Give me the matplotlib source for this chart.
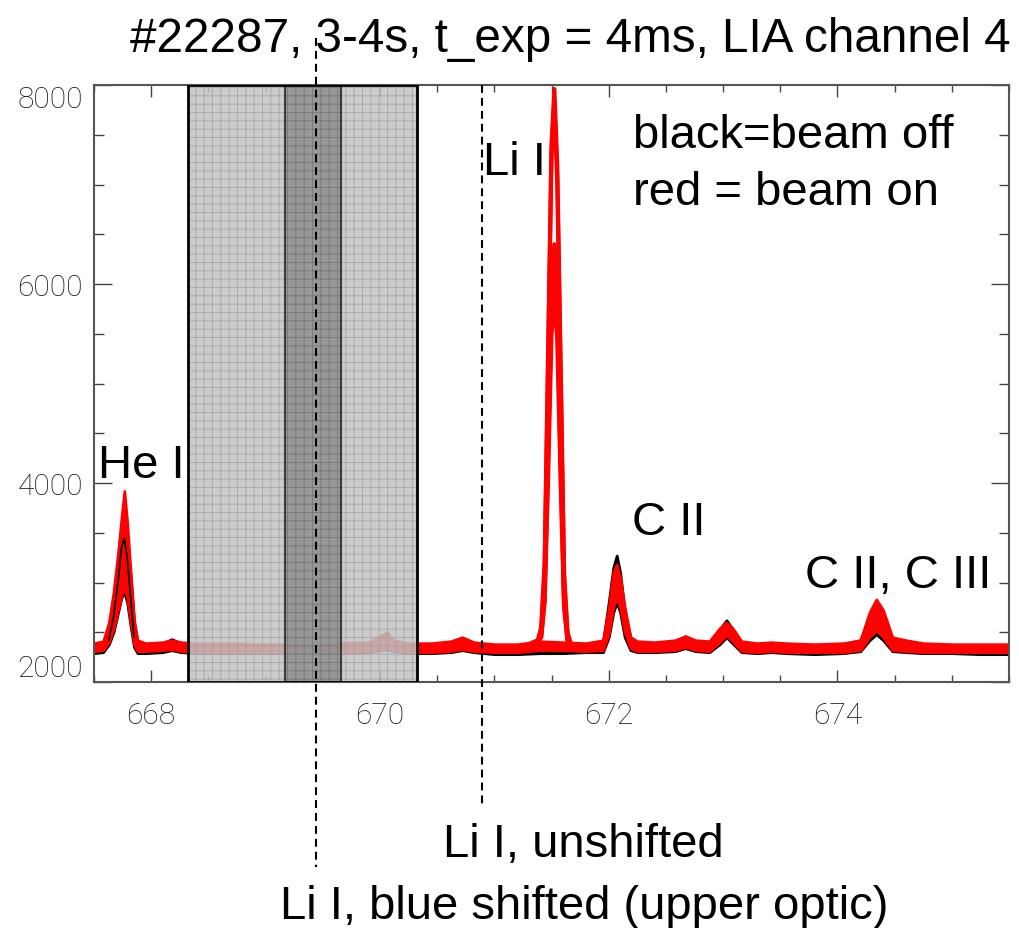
import numpy as np
import matplotlib
matplotlib.use("Agg")
import matplotlib.pyplot as plt
from matplotlib.patches import Rectangle
import matplotlib.transforms as mtransforms

# ---------------- data ----------------
wavelength = [667.50, 667.58, 667.63, 667.67, 667.71, 667.74, 667.765, 667.79, 667.82, 667.85,
              667.88, 667.95, 668.10, 668.18, 668.26, 668.40, 668.70, 669.00, 669.30, 669.60,
              669.90, 670.00, 670.06, 670.12, 670.25, 670.45, 670.62, 670.72, 670.82, 671.00,
              671.20, 671.40, 671.60, 671.80, 671.95, 672.00, 672.04, 672.07, 672.10, 672.14,
              672.19, 672.25, 672.40, 672.58, 672.67, 672.76, 672.88, 672.97, 673.03, 673.09,
              673.16, 673.30, 673.42, 673.55, 673.80, 674.05, 674.20, 674.28, 674.34, 674.40,
              674.48, 674.60, 674.75, 675.00, 675.25, 675.50]

# beam off (black) envelope of all frames
black_low = [2290, 2300, 2380, 2500, 2700, 2850, 2900, 2800, 2560, 2350,
             2290, 2290, 2300, 2320, 2300, 2290, 2290, 2290, 2290, 2290,
             2300, 2320, 2330, 2310, 2290, 2290, 2300, 2320, 2300, 2280,
             2280, 2290, 2290, 2300, 2300, 2450, 2700, 2800, 2700, 2450,
             2320, 2300, 2300, 2310, 2340, 2310, 2300, 2380, 2450, 2380,
             2300, 2290, 2300, 2290, 2280, 2290, 2310, 2420, 2480, 2420,
             2310, 2300, 2290, 2290, 2280, 2280]
black_high = [2360, 2380, 2560, 2850, 3250, 3550, 3600, 3450, 3050, 2600,
              2400, 2370, 2390, 2430, 2390, 2370, 2370, 2360, 2360, 2370,
              2390, 2440, 2460, 2410, 2370, 2370, 2400, 2430, 2390, 2360,
              2350, 2400, 2390, 2370, 2400, 2800, 3150, 3270, 3100, 2700,
              2450, 2400, 2390, 2410, 2460, 2410, 2400, 2530, 2620, 2520,
              2400, 2380, 2390, 2370, 2370, 2380, 2420, 2640, 2750, 2640,
              2430, 2410, 2380, 2370, 2370, 2370]

# beam on (red) envelope of all frames (Li I peak drawn separately)
red_low = [2310, 2320, 2400, 2530, 2720, 2870, 2950, 2850, 2600, 2380,
           2310, 2310, 2320, 2330, 2310, 2300, 2300, 2300, 2300, 2300,
           2310, 2330, 2340, 2320, 2300, 2300, 2310, 2330, 2310, 2300,
           2300, 2320, 2320, 2310, 2320, 2480, 2750, 2850, 2750, 2500,
           2340, 2310, 2310, 2320, 2350, 2320, 2310, 2400, 2470, 2400,
           2310, 2300, 2310, 2300, 2300, 2300, 2320, 2450, 2520, 2450,
           2320, 2310, 2300, 2300, 2300, 2300]
red_high = [2390, 2410, 2600, 2900, 3300, 3650, 3920, 3600, 3100, 2620,
            2420, 2390, 2400, 2420, 2400, 2390, 2390, 2380, 2380, 2390,
            2400, 2460, 2500, 2420, 2390, 2390, 2410, 2450, 2400, 2380,
            2380, 2410, 2400, 2390, 2420, 2750, 3100, 3180, 3050, 2750,
            2450, 2410, 2400, 2420, 2460, 2420, 2410, 2540, 2600, 2530,
            2410, 2390, 2400, 2390, 2380, 2390, 2420, 2700, 2830, 2720,
            2450, 2420, 2390, 2380, 2380, 2380]

# a typical beam-off frame across the He I line (seen inside the red band)
he_wavelength = [667.63, 667.67, 667.71, 667.74, 667.765, 667.79, 667.82, 667.85]
he_black_frame = [2420, 2650, 3000, 3350, 3450, 3250, 2850, 2450]

# individual beam-on frames around the Li I line
li_wavelength = [671.30, 671.38, 671.41, 671.44, 671.47, 671.50, 671.525, 671.55, 671.58,
                 671.61, 671.64, 671.67, 671.75]
li_frame_1 = [2380, 2420, 2550, 3200, 5300, 7400, 7960, 7200, 5200, 3100, 2500, 2380, 2350]
li_frame_2 = [2370, 2400, 2520, 3100, 5150, 7300, 7800, 7050, 5050, 3000, 2470, 2370, 2340]
li_frame_3 = [2360, 2400, 2480, 2950, 4500, 6050, 6400, 5900, 4400, 2850, 2440, 2360, 2330]
li_frame_4 = [2360, 2390, 2460, 2850, 4250, 5750, 6100, 5700, 4200, 2800, 2420, 2350, 2330]
li_frame_5 = [2350, 2390, 2450, 2800, 4050, 5500, 5850, 5450, 4000, 2750, 2410, 2350, 2330]
li_frames = [li_frame_1, li_frame_2, li_frame_3, li_frame_4, li_frame_5]

x_ticks = [668, 670, 672, 674]
x_tick_labels = ["668", "670", "672", "674"]
y_ticks = [2000, 4000, 6000, 8000]
y_tick_labels = ["2000", "4000", "6000", "8000"]

title_text = "#22287, 3-4s, t_exp = 4ms, LIA channel 4"
shaded_band = (668.32, 670.32)
blue_shift_band = (669.17, 669.66)
li_blue_shifted = 669.44
li_unshifted = 670.89

# ---------------- figure ----------------
W, H = 1019, 929
fig = plt.figure(figsize=(W / 100, H / 100), dpi=100)
ax = fig.add_axes([94 / W, 1 - 683 / H, (1009 - 94) / W, (683 - 86) / H])
ax.set_xlim(667.52, 675.49)
ax.set_ylim(2000, 8000)

ax.fill_between(wavelength, black_low, black_high, facecolor="black", edgecolor="black",
                lw=2, zorder=2)
ax.fill_between(wavelength, red_low, red_high, facecolor="red", edgecolor="red",
                lw=2, zorder=2.1)
ax.plot(he_wavelength, he_black_frame, color="black", lw=1.2, zorder=2.15)
for fr in li_frames:
    ax.plot(li_wavelength, fr, color="red", lw=3, zorder=2.2, solid_joinstyle="round")

# shaded regions
plt.rcParams["hatch.linewidth"] = 0.6
light = Rectangle((shaded_band[0], 2000), shaded_band[1] - shaded_band[0], 6000,
                  facecolor="#c4c4c4", edgecolor="#a0a0a0", hatch="++", lw=0,
                  alpha=0.85, zorder=3)
dark = Rectangle((blue_shift_band[0], 2000), blue_shift_band[1] - blue_shift_band[0], 6000,
                 facecolor="#8c8c8c", edgecolor="#707070", hatch="++", lw=0,
                 alpha=0.8, zorder=3.1)
ax.add_patch(light)
ax.add_patch(dark)
ax.add_patch(Rectangle((shaded_band[0], 2000), shaded_band[1] - shaded_band[0], 6000,
                       fill=False, edgecolor="black", lw=2, zorder=3.5))
ax.add_patch(Rectangle((blue_shift_band[0], 2000), blue_shift_band[1] - blue_shift_band[0], 6000,
                       fill=False, edgecolor="#3a3a3a", lw=1.5, zorder=3.4))

# dashed marker lines
trans = mtransforms.blended_transform_factory(ax.transData, ax.transAxes)
ax.plot([li_blue_shifted, li_blue_shifted], [1.079, -0.31], transform=trans, clip_on=False,
        color="black", lw=1.5, ls=(0, (3.8, 2.4)), zorder=4)
ax.plot([li_unshifted, li_unshifted], [1.0, -0.204], transform=trans, clip_on=False,
        color="black", lw=1.5, ls=(0, (3.8, 2.4)), zorder=4)

# axes styling
for s in ax.spines.values():
    s.set_color("#555555")
    s.set_linewidth(1.5)
ax.set_xticks(x_ticks)
ax.set_xticklabels(x_tick_labels)
ax.set_xticks(np.arange(667.5, 675.6, 0.5), minor=True)
ax.set_yticks(y_ticks)
ax.set_yticklabels(y_tick_labels)
ax.set_yticks(np.arange(2000, 8001, 500), minor=True)
ax.tick_params(which="both", direction="in", top=True, right=True, color="#444444", width=1)
ax.tick_params(axis="x", which="major", length=8.6, pad=14)
ax.tick_params(axis="x", which="minor", length=5)
ax.tick_params(axis="y", which="major", length=13, pad=8)
ax.tick_params(axis="y", which="minor", length=7)
for lab in ax.get_xticklabels() + ax.get_yticklabels():
    lab.set_fontfamily("Roboto")
    lab.set_fontweight("light")
    lab.set_fontsize(21.5)
    lab.set_color("#111111")
yt = ax.yaxis.get_major_ticks()
yt[0].label1.set_verticalalignment("bottom")
yt[-1].label1.set_verticalalignment("top")

# texts
def ftext(x, y, s, size=34, **kw):
    fig.text(x / W, 1 - y / H, s, fontsize=size, family="Liberation Sans",
             va="baseline", **kw)

ftext(570, 52, title_text, size=34.3, ha="center")
ftext(98, 478, "He I", ha="left")
ftext(483, 175, "Li I", ha="left")
ftext(633, 148, "black=beam off", ha="left")
ftext(633, 205, "red = beam on", ha="left")
ftext(632, 535, "C II", ha="left")
ftext(805, 588, "C II, C III", ha="left")
ftext(443, 857, "Li I, unshifted", ha="left")
ftext(280, 919, "Li I, blue shifted (upper optic)", ha="left")

fig.savefig("out.png", dpi=100)
